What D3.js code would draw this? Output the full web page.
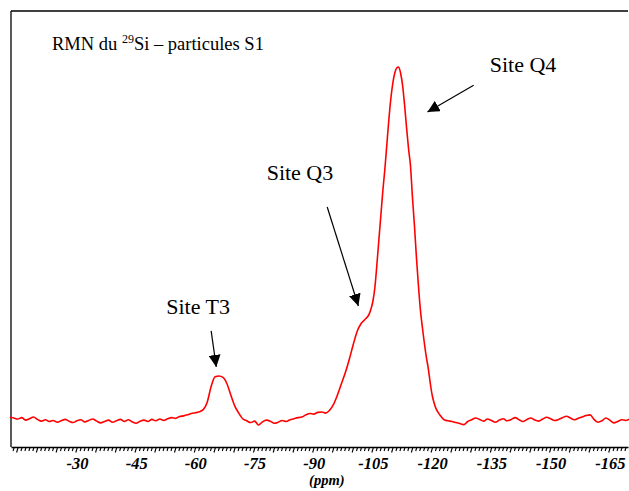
<!DOCTYPE html>
<html><head><meta charset="utf-8">
<script src="https://cdn.jsdelivr.net/npm/d3@7"></script>
<style>
html,body{margin:0;padding:0;background:#fff;}
svg{display:block;}
</style></head>
<body><svg id="c" width="629" height="491"></svg>
<script>
// Chemical shift (ppm) and intensity (arbitrary units, Q4 peak = 100)
const ppm = [-13,-14,-15,-16,-17,-18,-19,-20,-21,-22,-23,-24,-25,-26,-27,-28,-29,-30,-31,-32,-33,-34,-35,-36,-37,-38,-39,-40,-41,-42,-43,-44,-45,-46,-47,-48,-49,-50,-51,-52,-53,-54,-55,-56,-57,-58,-59,-60,-61,-62,-63,-64,-65,-66,-67,-68,-69,-70,-71,-72,-73,-74,-75,-76,-77,-78,-79,-80,-81,-82,-83,-84,-85,-86,-87,-88,-89,-90,-91,-92,-93,-94,-95,-96,-97,-98,-99,-100,-101,-102,-103,-104,-104.5,-105,-105.5,-106,-106.5,-107,-107.5,-108,-108.5,-109,-109.5,-110,-110.5,-111,-111.5,-112,-112.5,-113,-113.5,-114,-114.5,-115,-115.5,-116,-116.5,-117,-117.5,-118,-118.5,-119,-119.5,-120,-120.5,-121,-121.5,-122,-123,-124,-125,-126,-127,-128,-129,-130,-131,-132,-133,-134,-135,-136,-137,-138,-139,-140,-141,-142,-143,-144,-145,-146,-147,-148,-149,-150,-151,-152,-153,-154,-155,-156,-157,-158,-159,-160,-161,-162,-163,-164,-165,-166,-167,-168,-169,-170];
const intensity = [0.2,0.0,-0.3,0.1,-0.6,-0.2,0.3,-0.4,-0.9,-0.5,-1.0,-0.7,-1.2,-0.8,-0.4,-0.9,-1.3,-0.8,-0.5,-1.1,-0.7,-0.3,-0.9,-1.4,-1.0,-0.6,-1.2,-0.8,-0.4,-1.0,-0.5,-1.1,-1.5,-0.9,-0.6,-1.0,-0.4,-0.8,-0.3,-0.7,-0.2,0.1,-0.1,0.4,0.6,0.9,1.3,1.5,1.8,2.4,4.5,9.0,11.8,12.0,11.6,9.8,6.5,3.4,1.4,-0.2,-0.8,-1.3,-0.9,-2.0,-1.1,-0.6,-0.9,-1.5,-1.2,-0.7,-1.0,-0.5,-0.2,0.1,0.3,0.9,1.3,1.1,1.6,1.7,1.4,2.2,3.9,6.6,9.8,13.0,16.8,21.0,24.8,27.0,28.2,29.6,31.2,33.5,37.5,44,51,58,65,71,78,85,91,95.5,98.5,100,100.3,98.5,95,89.5,83,77,72,63,55,46,38,31,26,21.5,17.5,14.2,10,6.5,4.2,2.6,1.6,0.8,-0.5,-0.8,-1.0,-1.3,-1.6,-1.9,-1.0,-0.5,0.0,-0.4,-0.9,-0.3,-0.7,-1.2,-0.6,-0.2,-0.8,-0.4,0.1,-0.5,-1.0,-0.4,0.0,-0.6,-0.9,-0.3,0.2,-0.2,-0.7,-0.4,0.1,0.5,0.0,-0.5,-0.1,0.3,0.7,0.9,-0.4,-1.2,-0.8,0.0,-0.6,-1.4,-1.0,-0.5,-0.7,-0.3];
const tickLabels = [-30,-45,-60,-75,-90,-105,-120,-135,-150,-165];
const titleText = ["RMN du ", "29", "Si – particules S1"];
const axisTitle = "(ppm)";
// annotation labels: text, label position (ppm, intensity), arrow start, arrow end
const annoText = ["Site Q4","Site Q3","Site T3"];
const annoLabelPpm = [-143.0,-86.5,-60.7];
const annoLabelInt = [99.0,68.0,29.7];
const arrowFromPpm = [-130.5,-93.4,-64.0];
const arrowFromInt = [95.1,60.3,24.9];
const arrowToPpm = [-118.8,-101.3,-65.3];
const arrowToInt = [87.4,32.0,14.6];

const svg = d3.select("#c");
const x = d3.scaleLinear().domain([-13.3,-169.6]).range([11,628]);
const y = d3.scaleLinear().domain([0,100]).range([418,68]);
const axisY = 447, topY = 11;

// frame: top and left lines
svg.append("line").attr("x1",x.range()[0]).attr("x2",x.range()[1]).attr("y1",topY).attr("y2",topY)
  .attr("stroke","#000").attr("stroke-width",1.3);
svg.append("line").attr("x1",x.range()[0]).attr("x2",x.range()[0]).attr("y1",topY).attr("y2",axisY)
  .attr("stroke","#000").attr("stroke-width",1.3);

// bottom axis with minor ticks
const minor = d3.range(-14,-170,-1);
const gAx = svg.append("g").attr("transform",`translate(0,${axisY})`)
  .call(d3.axisBottom(x).tickValues(minor).tickSize(4).tickFormat("").tickSizeOuter(0));
gAx.select(".domain").attr("stroke","#000").attr("stroke-width",1.6);
gAx.selectAll(".tick line").attr("x2",-1.2).attr("stroke","#000").attr("stroke-width",1.1);
gAx.selectAll(".tick").filter(d=>d%5===0).select("line").attr("y2",5.5).attr("x2",-1.6);

const gLab = svg.append("g").attr("transform",`translate(0,${axisY})`)
  .call(d3.axisBottom(x).tickValues(tickLabels).tickSize(0).tickPadding(10).tickFormat(d=>String(d)));
gLab.select(".domain").remove();
gLab.selectAll("text").attr("font-family","Liberation Serif, Times New Roman, serif")
  .attr("font-size",16.5).attr("font-weight","bold").attr("font-style","italic").attr("fill","#000");

svg.append("text").attr("x",x(-93.3)).attr("y",485).attr("text-anchor","middle")
  .attr("font-family","Liberation Serif, serif").attr("font-size",14.5).attr("font-weight","bold")
  .attr("font-style","italic").text(axisTitle);

// title
const t = svg.append("text").attr("x",52).attr("y",50)
  .attr("font-family","Liberation Serif, Times New Roman, serif").attr("font-size",18.5).attr("fill","#000");
t.append("tspan").text(titleText[0]);
t.append("tspan").attr("font-size",12).attr("dy",-7).text(titleText[1]);
t.append("tspan").attr("dy",7).text(titleText[2]);

// spectrum
const pts = ppm.map((p,i)=>[p,intensity[i]]);
svg.append("path").datum(pts)
  .attr("d",d3.line().x(d=>x(d[0])).y(d=>y(d[1])).curve(d3.curveMonotoneX))
  .attr("fill","none").attr("stroke","#ff0000").attr("stroke-width",1.6);

// arrows
const defs = svg.append("defs");
defs.append("marker").attr("id","ah").attr("viewBox","0 0 10 10").attr("refX",10).attr("refY",5)
  .attr("markerWidth",12).attr("markerHeight",12).attr("markerUnits","userSpaceOnUse").attr("orient","auto")
  .append("path").attr("d","M0,0 L10,5 L0,10 Z").attr("fill","#000");
annoText.forEach((txt,i)=>{
  svg.append("line").attr("x1",x(arrowFromPpm[i])).attr("y1",y(arrowFromInt[i]))
    .attr("x2",x(arrowToPpm[i])).attr("y2",y(arrowToInt[i]))
    .attr("stroke","#000").attr("stroke-width",1.2).attr("marker-end","url(#ah)");
  svg.append("text").attr("x",x(annoLabelPpm[i])).attr("y",y(annoLabelInt[i])).attr("text-anchor","middle")
    .attr("font-family","Liberation Serif, Times New Roman, serif").attr("font-size",22).attr("fill","#000")
    .text(txt);
});
</script></body></html>
